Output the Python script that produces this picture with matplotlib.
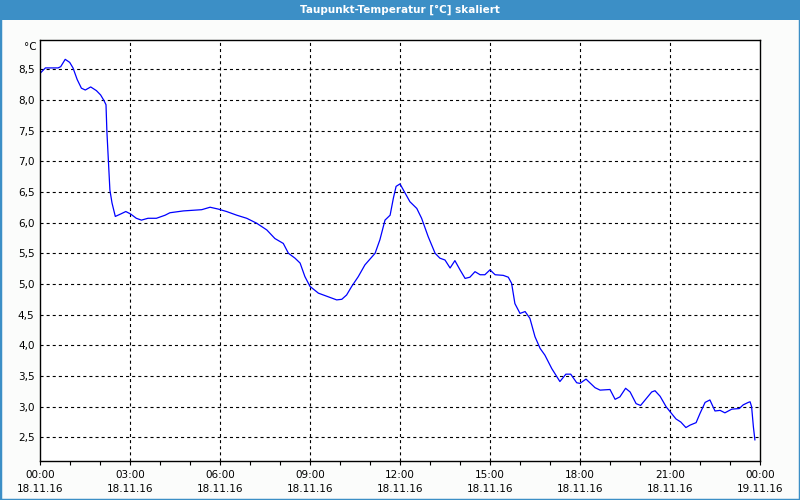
import matplotlib.pyplot as plt
import matplotlib.patches as mpatches
from matplotlib.ticker import FixedLocator, MultipleLocator, FuncFormatter

# Stunden seit 18.11.16 00:00 und Taupunkt in °C
hours = [0.02, 0.18, 0.38, 0.60, 0.69, 0.84, 0.99, 1.10, 1.24, 1.38, 1.51, 1.69,
         1.88, 2.02, 2.13, 2.20, 2.23, 2.29, 2.33, 2.40, 2.51, 2.69, 2.86, 3.02,
         3.21, 3.38, 3.60, 3.88, 4.17, 4.33, 4.78, 5.39, 5.67, 5.94, 6.22, 6.56,
         6.89, 7.22, 7.56, 7.83, 8.11, 8.28, 8.50, 8.67, 8.83, 9.00, 9.28, 9.67,
         9.89, 10.06, 10.22, 10.39, 10.61, 10.83, 11.17, 11.33, 11.50, 11.67,
         11.78, 11.87, 12.00, 12.17, 12.33, 12.56, 12.72, 12.94, 13.17, 13.33,
         13.50, 13.67, 13.83, 14.00, 14.17, 14.33, 14.50, 14.67, 14.83, 15.00,
         15.17, 15.44, 15.61, 15.72, 15.83, 16.00, 16.17, 16.33, 16.50, 16.67,
         16.83, 17.06, 17.33, 17.53, 17.69, 17.89, 18.00, 18.20, 18.50, 18.67,
         19.00, 19.17, 19.33, 19.52, 19.67, 19.87, 20.02, 20.22, 20.39, 20.50,
         20.67, 20.87, 21.00, 21.20, 21.36, 21.53, 21.67, 21.87, 22.00, 22.17,
         22.33, 22.50, 22.67, 22.83, 23.06, 23.31, 23.44, 23.61, 23.67, 23.72,
         23.78, 23.83]
taupunkt = [8.44, 8.52, 8.52, 8.52, 8.54, 8.66, 8.61, 8.52, 8.33, 8.19, 8.16, 8.21,
            8.15, 8.08, 7.99, 7.92, 7.48, 6.91, 6.53, 6.32, 6.10, 6.14, 6.18, 6.14,
            6.07, 6.04, 6.07, 6.07, 6.12, 6.16, 6.19, 6.21, 6.25, 6.22, 6.18, 6.12,
            6.07, 5.99, 5.88, 5.74, 5.66, 5.50, 5.42, 5.34, 5.12, 4.96, 4.85, 4.78,
            4.74, 4.75, 4.82, 4.96, 5.12, 5.31, 5.50, 5.72, 6.04, 6.12,
            6.40, 6.59, 6.63, 6.48, 6.34, 6.23, 6.07, 5.77, 5.50, 5.42,
            5.39, 5.26, 5.38, 5.23, 5.09, 5.11, 5.20, 5.15, 5.15, 5.23,
            5.15, 5.14, 5.11, 5.01, 4.68, 4.52, 4.55, 4.44, 4.14, 3.95,
            3.84, 3.62, 3.41, 3.53, 3.53, 3.39, 3.38, 3.45, 3.31, 3.27,
            3.28, 3.12, 3.16, 3.30, 3.24, 3.05, 3.02, 3.14, 3.24, 3.26,
            3.17, 3.00, 2.92, 2.80, 2.75, 2.66, 2.70, 2.74, 2.89, 3.07,
            3.11, 2.93, 2.94, 2.90, 2.96, 2.97, 3.03, 3.07, 3.08, 3.00,
            2.67, 2.46]

tick_hours = [0, 3, 6, 9, 12, 15, 18, 21, 24]
tick_labels = ["00:00\n18.11.16", "03:00\n18.11.16", "06:00\n18.11.16",
               "09:00\n18.11.16", "12:00\n18.11.16", "15:00\n18.11.16",
               "18:00\n18.11.16", "21:00\n18.11.16", "00:00\n19.11.16"]
y_ticks = [2.5, 3.0, 3.5, 4.0, 4.5, 5.0, 5.5, 6.0, 6.5, 7.0, 7.5, 8.0, 8.5]

title = "Taupunkt-Temperatur [°C] skaliert"
blau = "#3c8fc6"

plt.rcParams['lines.scale_dashes'] = False
fig = plt.figure(figsize=(8, 5), dpi=100, facecolor="#fbfcfb")

# Titelleiste und Rahmen
fig.patches.append(mpatches.Rectangle((0, 0.96), 1, 0.04, transform=fig.transFigure,
                                      facecolor=blau, edgecolor="none", zorder=0))
fig.patches.append(mpatches.Rectangle((0, 0), 1, 1, transform=fig.transFigure,
                                      facecolor="none", edgecolor=blau, linewidth=2.5, zorder=0))
fig.text(0.5, 0.98, title, color="white", fontsize=7.5, fontweight="bold",
         ha="center", va="center")

ax = fig.add_axes([0.05, 0.0786, 0.90, 0.8408])
ax.set_facecolor("white")
ax.plot(hours, taupunkt, color="#0000ff", linewidth=0.9)

ax.set_xlim(0, 24)
ax.set_ylim(2.12, 8.97)

ax.xaxis.set_major_locator(FixedLocator(tick_hours))
ax.set_xticklabels(tick_labels, fontsize=7.5, linespacing=1.5)
ax.xaxis.set_minor_locator(MultipleLocator(1))
ax.tick_params(axis="x", which="both", direction="out", length=3, width=0.8, pad=4)

ax.yaxis.set_major_locator(FixedLocator(y_ticks))
ax.yaxis.set_major_formatter(FuncFormatter(lambda v, p: f"{v:.1f}".replace(".", ",")))
ax.tick_params(axis="y", length=0, pad=4, labelsize=7.5)

# Gitter nur innen (nicht auf den Achsenrändern)
for h in tick_hours[1:-1]:
    ax.axvline(h, color="black", linewidth=0.8, linestyle=(0, (2.2, 2.2)), zorder=1)
for v in y_ticks:
    ax.axhline(v, color="black", linewidth=0.8, linestyle=(0, (2.2, 2.2)), zorder=1)

for s in ax.spines.values():
    s.set_linewidth(1.0)
    s.set_color("black")

ax.text(-0.005, 0.985, "°C", transform=ax.transAxes, ha="right", va="center", fontsize=7.5)

fig.savefig("out.png", dpi=100, facecolor=fig.get_facecolor())
